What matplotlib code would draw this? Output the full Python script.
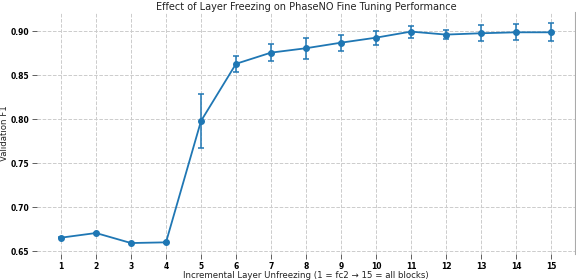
import matplotlib
matplotlib.use("Agg")
import matplotlib.pyplot as plt

stages = list(range(1, 16))
f1_mean = [0.6655, 0.6708, 0.6594, 0.6602, 0.798, 0.863, 0.8757, 0.8807, 0.887,
           0.8927, 0.8996, 0.8962, 0.8977, 0.8988, 0.8988]
f1_err = [0.0005, 0.0005, 0.0005, 0.0005, 0.031, 0.009, 0.0093, 0.012, 0.0093,
          0.008, 0.0068, 0.0055, 0.009, 0.009, 0.010]
yticks = [0.65, 0.70, 0.75, 0.80, 0.85, 0.90]

title = "Effect of Layer Freezing on PhaseNO Fine Tuning Performance"
xlabel = "Incremental Layer Unfreezing (1 = fc2 \u2192 15 = all blocks)"
ylabel = "Validation F1"

fig = plt.figure(figsize=(5.76, 2.8), dpi=100)
ax = fig.add_axes([0.0634, 0.093, 0.9356, 0.863])

ax.errorbar(stages, f1_mean, yerr=f1_err, fmt='-o', color='#1f77b4',
            markersize=4, linewidth=1.3, capsize=2.5, elinewidth=1.1, capthick=1.1)

ax.set_xlim(0.3, 15.7)
ax.set_ylim(0.647, 0.9215)
ax.set_xticks(stages)
ax.set_yticks(yticks)
ax.set_yticklabels([f"{v:.2f}" for v in yticks])
ax.tick_params(axis='both', labelsize=5.5, length=3.5, width=0.6, color='#444444', pad=2)
for lbl in ax.get_xticklabels() + ax.get_yticklabels():
    lbl.set_fontweight('bold')

ax.grid(True, linestyle='--', color='#cccccc', linewidth=0.7)
ax.set_axisbelow(True)
for side in ['left', 'top', 'bottom']:
    ax.spines[side].set_visible(False)
ax.spines['right'].set_color('#aaaaaa')
ax.spines['right'].set_linewidth(0.8)

ax.set_title(title, fontsize=7, pad=1.5, color='#222222')
ax.set_xlabel(xlabel, fontsize=6.2, labelpad=0.5, color='#222222')
ax.set_ylabel(ylabel, fontsize=6.2, labelpad=1, color='#222222')

fig.savefig("out.png", dpi=100)
